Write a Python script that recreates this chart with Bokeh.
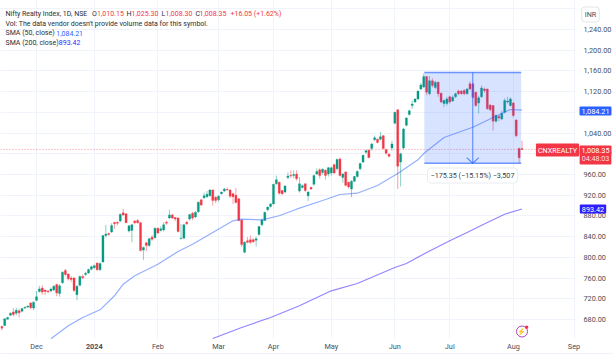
from bokeh.plotting import figure
from bokeh.models import FixedTicker, NumeralTickFormatter, Label, Range1d
from bokeh.embed import file_html
from bokeh.resources import INLINE

# OHLC (Nifty Realty Index, daily)
opens = [666.5,668.4,680.6,688.4,694.5,692,697,696,702,704,712,702,717,734,741,737,735,735,737,747.6,730,750.8,774.6,768,760,760,728,746,763,767,770,777,780,789,776,791,842,846,849,867.3,868,870,886,884,851,852,870,871,867,814,828,823,
 839,838,856,852,853,868,876,882,877,876,836,837,868,874,885,878,888,911,915,917,919,930,916,911,923,928,931,930,923,920,913,872,810,832,834,834,833,844,863,871,892,898,903,942,945,929,926,954,958,958,961,928,
 935,942,919,935,941,961,969,964,968,961,963,979,971,990,954,965,945,932,947,956,971,984,1003,1007,1010,1027,1028,1028,1035,1008,999,1011,1059,1085,984,1011,1055,1076,1093,1100,1106,1125,
 1129,1149,1116,1141,1128,1138,1117,1097,1097,1110,1102,1110,1121,1121,1122,1116,1135,1135,1119,1098,1110,1125,1125,1094,1093,1063,1072,1067,1080,1100,1093,1098,1065,1010,1010.15]
highs = [668.4,682,685,693.5,702,703,700,702,705,707,713,715,735,745,746,738,737,742,747,749,748,773,778,769,764,762,747,765,767,772,778,784,786,790,790,843,862.8,848,866,869,869,884,894,885,862,864,872,874,868,821,830,838,
 843,858,858,860,868,871,892,884,878,877,864,865,870,884,888,889,908,912,925,928,932,932,918,920,927,934,935,932,925,934,915,873,831,839,842,837,840,861,875,888,898,905,942,958,946,930,939,964,968,968,968,955,
 941,943,928,937,960,972,972,972,970,975,975,981,991,993,963,966,946,949,957,968,983,998,1008,1009,1021,1035,1030,1042,1036,1010,1001,1025,1081,1086,1002,1050,1071,1085,1103,1107,1122,1137,
 1155,1150,1150,1146,1141,1140,1118,1105,1110,1112,1113,1118,1124,1123,1125,1127,1140,1137,1120,1112,1132,1128,1126,1096,1094,1076,1075,1083,1107,1110,1109,1100,1067,1012,1025.3]
lows = [658.7,667,680,687,686,688,684,694,700,702,700,698,715,732,728,727,731,733,735,725,724,749,764,755,752,733,717,744,758,764,768,775,778,774,774,790,838,842,847,855,862,868,880,866,848,829,864,865,811,795,812,820,
 832,836,845,850,850,863,874,874,870,848,835,836,862,871,872,876,886,899,913,915,917,900,905,908,921,926,929,915,903,904,870,820,808,827,826,828,821,842,860,870,889,896,902,940,921,920,924,951,954,953,948,925,
 933,926,909,930,939,959,952,960,950,956,958,961,968,956,944,937,933,916,945,954,968,982,1000,991,1006,1025,1020,1026,1008,998,993,1006,1057,932,937,1008,1053,1074,1087,1098,1104,1123,
 1127,1113,1113,1128,1125,1110,1098,1090,1093,1097,1100,1108,1113,1114,1113,1114,1123,1106,1091,1078,1108,1118,1085,1082,1045,1060,1063,1065,1078,1097,1091,1070,1032,981.8,1008.3]
closes = [663.3,681.3,683.9,692.2,689.6,698,693,701,703.5,706,702.5,713.5,724,739,733,734,733.5,739,744,731,745,771.4,766.9,758.5,757,736,744,763,760.5,769.5,776.5,782,784,776,788,842,845,844,861.5,865,866,883,882,867,861,863,867,867,813,819,823,836,
 835,856,847,855,863,866,882,876,874,850,837,863,865,882.7,876,887,906.5,901,919,922,930,910,910,918,926,932,930,918,917,906,871,825,829,829,829,830,836,859.5,872,887,897,903,941,950,924,923,938,957,957,960,952,942,
 938.5,929,926,932,958,966,958,970,958,973,973,963,989,958,961,939,936,947,956,966,981,997,1006,993,1019,1031,1022,1033,1010,1001,995,1019,1080,976,1000,1048,1069,1083,1096,1106,1121,1133,
 1149,1119,1141,1132,1138,1116,1100,1103,1106,1100,1109,1116,1116,1116,1116,1125,1125,1109,1093,1108,1127,1122,1087,1085,1063,1074,1069,1078,1103,1102,1106,1074,1035,992.3,1008.35]

sma50_bar = [17,23,28,34,39,42,46,54,61,66,73,80,83,90,96,102,111,117,123,130,137,144,146,153,163,170,176,180]
sma50_val = [642.7,667.8,683.9,698.7,725.8,748.2,764.4,786.8,811.3,825.4,848,870.6,873.7,872.5,880.3,893,909.8,921.4,923.9,938.8,961.9,988.4,1000.5,1031.4,1051.3,1070,1085.5,1084.21]
sma200_bar = [73,83,93,103,114,123,136,140,147,155,161,168,174,180]
sma200_val = [643.3,664.6,683.9,706.5,735.4,749.5,780.4,788.1,809.4,832,848,867.3,883.3,893.42]

tick_bars = [12,32,54,75,94,114,136,155,177,198]
tick_labels = ["Dec","2024","Feb","Mar","Apr","May","Jun","Jul","Aug","Sep"]
grid_prices = [680,720,760,800,840,880,920,960,1000,1040,1080,1120,1160,1200,1240]
axis_prices = [680,720,760,800,840,880,920,960,1040,1120,1160,1200,1240]

box_left, box_right = 146.2, 179.7
box_top, box_bottom = 1157.0, 981.65
last_close, sma50_last, sma200_last = 1008.35, 1084.21, 893.42

# canvas spans the whole picture; the chart pane ends at pane_right / pane_bottom / pane_top
view_left, view_right, view_bottom, view_top = -0.45, 211.66, 612.4, 1296.0
pane_right, pane_bottom, pane_top, footer_rule = 198.51, 643.3, 1280.5, 614.3

UP, DOWN = "#089981", "#F23645"
BLUE = "#2962FF"
FONT = "Roboto"
GRID = "#f0f3fa"

p = figure(width=613, height=354, output_backend="svg", toolbar_location=None,
           x_range=Range1d(view_left, view_right), y_range=Range1d(view_bottom, view_top),
           y_axis_location="right", min_border_left=0, min_border_top=0,
           min_border_right=0, min_border_bottom=0)
p.outline_line_color = None
p.background_fill_color = "white"

p.xgrid.ticker = FixedTicker(ticks=tick_bars)
p.ygrid.ticker = FixedTicker(ticks=grid_prices)
p.xgrid.grid_line_color = GRID
p.ygrid.grid_line_color = GRID

xa = p.xaxis[0]
xa.fixed_location = pane_bottom
xa.ticker = FixedTicker(ticks=tick_bars)
xa.major_label_overrides = {b: ("" if t == "2024" else t) for b, t in zip(tick_bars, tick_labels)}
ya = p.yaxis[0]
ya.fixed_location = pane_right
ya.ticker = FixedTicker(ticks=axis_prices)
ya.formatter = NumeralTickFormatter(format="0,0.00")
for a in (xa, ya):
    a.axis_line_color = None
    a.major_tick_line_color = None
    a.minor_tick_line_color = None
    a.major_tick_out = 0
    a.major_tick_in = 0
    a.major_label_text_font = FONT
    a.major_label_text_font_size = "7.3px"
    a.major_label_text_color = "#4a4e58"
ya.major_label_standoff = 8
xa.major_label_standoff = 4

# the grid stops at the pane's edges: the scales' areas are painted white over it
p.quad(left=[pane_right], right=[view_right], top=[view_top], bottom=[view_bottom], fill_color="white", line_color=None)
p.quad(left=[view_left], right=[pane_right], top=[pane_bottom], bottom=[view_bottom], fill_color="white", line_color=None)
# pane rules
p.segment([view_left, view_left], [pane_top, footer_rule], [pane_right, view_right], [pane_top, footer_rule],
          line_color=GRID, line_width=1)
# last price line
p.segment([view_left], [last_close], [pane_right], [last_close], line_color=DOWN, line_alpha=0.55,
          line_width=1, line_dash="1 2")

bars = list(range(len(closes)))
colors = [DOWN if c < o else UP for o, c in zip(opens, closes)]
p.segment(bars, highs, bars, lows, color=colors, line_width=0.8, line_alpha=0.6)
p.vbar(x=bars, top=[max(o, c) for o, c in zip(opens, closes)],
       bottom=[min(o, c) for o, c in zip(opens, closes)], width=0.72,
       fill_color=colors, line_color=colors, line_width=0.3)

p.line(sma50_bar, sma50_val, line_color=BLUE, line_alpha=0.5, line_width=1.2)
p.line(sma200_bar, sma200_val, line_color="#3A22FF", line_alpha=0.55, line_width=1.2)

# measure tool
mid = (box_left + box_right) / 2
p.quad(left=[box_left], right=[box_right], top=[box_top], bottom=[box_bottom],
       fill_color=BLUE, fill_alpha=0.18, line_color=None)
p.segment([box_left, box_left], [box_top, box_bottom], [box_right, box_right], [box_top, box_bottom],
          line_color=BLUE, line_alpha=0.65, line_width=1.5)
p.segment([mid], [box_top], [mid], [box_bottom], line_color=BLUE, line_alpha=0.65, line_width=1.2)
p.line([mid - 2.1, mid, mid + 2.1], [box_bottom + 11, box_bottom, box_bottom + 11],
       line_color=BLUE, line_alpha=0.7, line_width=1.2)


def txt(text, rx, ry, color="#2a2e39", size=7.0, style="normal", align="left", **kw):
    p.add_layout(Label(x=rx, y=ry, x_units="canvas", y_units="canvas", text=text, level="overlay",
                       text_font=FONT, text_font_size=f"{size}px", text_color=color,
                       text_font_style=style, text_align=align, text_baseline="middle", **kw))


txt("2024", 93.8, 346, color="#4a4e58", size=7.3, style="bold", align="center")

# legend
txt("Nifty Realty Index, 1D, NSE", 5, 13)
for t, x, col in [("O", 91.5, "#2a2e39"), ("1,010.15", 96.5, DOWN), ("H", 126, "#2a2e39"), ("1,025.30", 131, DOWN),
                  ("L", 161, "#2a2e39"), ("1,008.30", 165, DOWN), ("C", 195, "#2a2e39"), ("1,008.35", 199, DOWN),
                  ("+16.05 (+1.62%)", 230, DOWN)]:
    txt(t, x, 13, color=col)
txt("Vol: The data vendor doesn't provide volume data for this symbol.", 5, 23)
txt("SMA (50, close)", 5, 32.5)
txt("1,084.21", 55.7, 32.5, color=BLUE)
txt("SMA (200, close)", 5, 42)
txt("893.42", 58.3, 42, color="#3A22FF")

# measure result
txt("\u2212175.35 (\u221215.15%) \u22123,507", 472, 175, color="#3a3e48", size=7.2, align="center",
    background_fill_color="white", border_line_color="#e9ebf0", border_radius=3, padding=3)

# price scale badges
txt("INR", 590, 14, color="#4a4e58", size=7.2, align="center",
    background_fill_color="white", border_line_color="#e3e5ea", border_radius=3, padding=3)
txt("1,084.21", 595, 110.5, color="white", size=7.3, align="center",
    background_fill_color=BLUE, border_radius=1, padding=2)
txt("893.42", 592.5, 208.5, color="white", size=7.3, align="center",
    background_fill_color="#2F1CFF", border_radius=1, padding=2)
txt("CNXREALTY", 557, 149.5, color="white", size=7.2, align="center",
    background_fill_color=DOWN, border_radius=1, padding=2)
txt("04:48:03", 595, 157.5, color="#ffdfe2", size=7.2, align="center",
    background_fill_color=DOWN, border_radius=1, padding=2)
txt("1,008.35", 595, 149.5, color="white", size=7.3, align="center",
    background_fill_color=DOWN, border_radius=1, padding=2)

# alert icon
p.scatter([180], [656.8], size=11, marker="circle", fill_color=None, line_color="#AB47BC", line_width=1)
p.scatter([181.6], [665], size=3.5, marker="circle", fill_color=DOWN, line_color=None)
txt("\u26a1", 520.7, 331, color="#AB47BC", size=7, align="center")

open("out.html", "w").write(file_html(p, INLINE))
